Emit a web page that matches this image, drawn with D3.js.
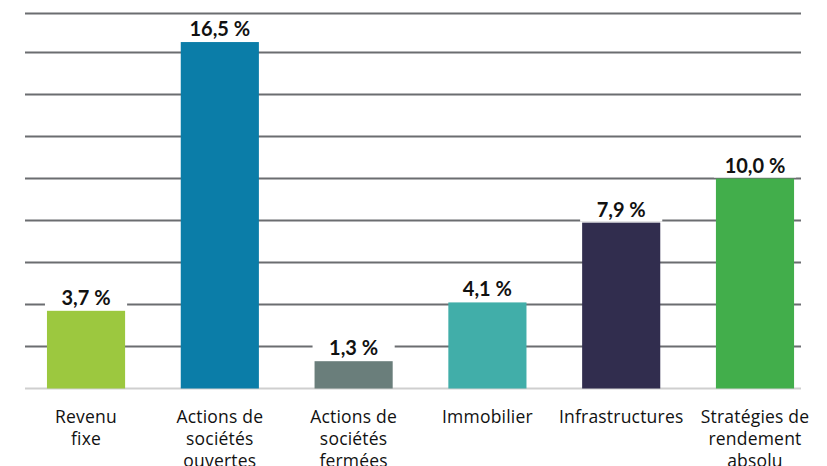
<!DOCTYPE html>
<html>
<head>
<meta charset="utf-8">
<script src="https://cdn.jsdelivr.net/npm/d3@7"></script>
<style>
  html, body { margin: 0; padding: 0; background: #fff; }
  svg { display: block; }
</style>
</head>
<body>
<svg id="chart" width="827" height="466"></svg>
<script>
const categories = [
  ["Revenu", "fixe"],
  ["Actions de", "sociétés", "ouvertes"],
  ["Actions de", "sociétés", "fermées"],
  ["Immobilier"],
  ["Infrastructures"],
  ["Stratégies de", "rendement", "absolu"]
];
const values = [3.7, 16.5, 1.3, 4.1, 7.9, 10.0];
const valueLabels = ["3,7 %", "16,5 %", "1,3 %", "4,1 %", "7,9 %", "10,0 %"];
const colors = ["#9cc83f", "#0b7da8", "#6a7e7b", "#41aea9", "#312d4e", "#42ae4b"];
const gridValues = [2, 4, 6, 8, 10, 12, 14, 16, 17.86];
const axisMax = 17.86;

const svg = d3.select("#chart");
const left = 25, right = 801, baseY = 388.5, topY = 13.5;

const x = d3.scaleBand()
  .domain(d3.range(values.length))
  .range([left, right])
  .paddingInner(0.416)
  .paddingOuter(0.108)
  .align(0.76);

const y = d3.scaleLinear().domain([0, axisMax]).range([baseY, topY]);

// gridlines
svg.append("g").selectAll("line")
  .data(gridValues)
  .join("line")
  .attr("x1", left).attr("x2", right)
  .attr("y1", d => y(d)).attr("y2", d => y(d))
  .attr("stroke", "#6b6d70")
  .attr("stroke-width", 2);

// baseline
svg.append("line")
  .attr("x1", left).attr("x2", right)
  .attr("y1", y(0)).attr("y2", y(0))
  .attr("stroke", "#cfcfcf")
  .attr("stroke-width", 2);

// label backgrounds
svg.append("g").selectAll("rect")
  .data(values)
  .join("rect")
  .attr("x", (d, i) => x(i) - 2)
  .attr("width", x.bandwidth() + 4)
  .attr("y", d => y(d) - 26)
  .attr("height", 25)
  .attr("fill", "#fff");

// bars
svg.append("g").selectAll("rect")
  .data(values)
  .join("rect")
  .attr("x", (d, i) => x(i))
  .attr("width", x.bandwidth())
  .attr("y", d => y(d))
  .attr("height", d => y(0) - y(d))
  .attr("fill", (d, i) => colors[i]);

// value labels
svg.append("g").selectAll("text")
  .data(values)
  .join("text")
  .attr("x", (d, i) => x(i) + x.bandwidth() / 2)
  .attr("y", d => y(d) - 6)
  .attr("text-anchor", "middle")
  .attr("font-family", "Lato, 'Open Sans', sans-serif")
  .attr("font-weight", 700)
  .attr("font-size", 20)
  .attr("fill", "#111")
  .text((d, i) => valueLabels[i]);

// category labels
const cat = svg.append("g").selectAll("text")
  .data(categories)
  .join("text")
  .attr("x", (d, i) => x(i) + x.bandwidth() / 2)
  .attr("y", 423)
  .attr("text-anchor", "middle")
  .attr("font-family", "'Open Sans', sans-serif")
  .attr("font-size", 17.5)
  .attr("fill", "#111")
  .style("letter-spacing", "0.2px");
cat.selectAll("tspan")
  .data(d => d)
  .join("tspan")
  .attr("x", function() { return d3.select(this.parentNode).attr("x"); })
  .attr("dy", (d, i) => i === 0 ? 0 : 22)
  .text(d => d);
</script>
</body>
</html>
